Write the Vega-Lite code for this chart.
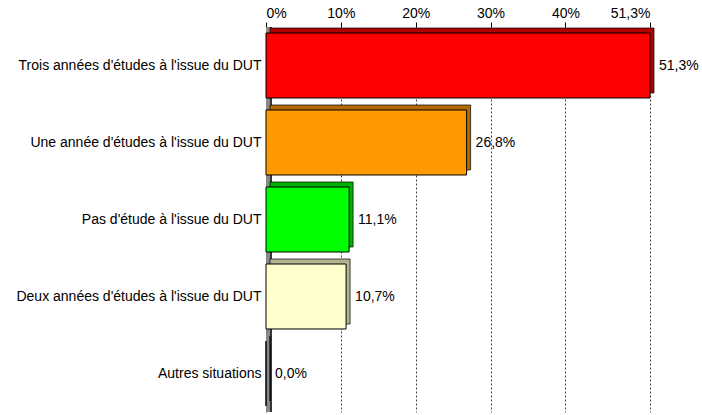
{
  "$schema": "https://vega.github.io/schema/vega-lite/v6.json",
  "autosize": "none",
  "width": 384,
  "height": 385,
  "padding": {"left": 266, "top": 27, "right": 52, "bottom": 3},
  "background": "white",
  "config": {
    "font": "Liberation Sans",
    "view": {"stroke": null},
    "axis": {"labelFont": "Liberation Sans", "labelColor": "#000", "labelFontSize": 14}
  },
  "data": {
    "values": [
      {"cat": "Trois années d'études à l'issue du DUT", "v": 51.3},
      {"cat": "Une année d'études à l'issue du DUT", "v": 26.8},
      {"cat": "Pas d'étude à l'issue du DUT", "v": 11.1},
      {"cat": "Deux années d'études à l'issue du DUT", "v": 10.7},
      {"cat": "Autres situations", "v": 0.0}
    ]
  },
  "transform": [
    {"calculate": "replace(format(datum.v, '.1f'), '.', ',') + '%'", "as": "label"}
  ],
  "encoding": {
    "y": {
      "field": "cat", "type": "nominal", "sort": null,
      "scale": {"paddingInner": 0.156, "paddingOuter": 0.078},
      "axis": {"title": null, "ticks": false, "domain": false, "labelPadding": 5, "labelLimit": 300}
    }
  },
  "layer": [
    {
      "mark": {"type": "rule", "strokeWidth": 5, "color": "#888", "xOffset": 2.5},
      "encoding": {"x": {"datum": 0, "type": "quantitative", "scale": {"domain": [0, 51.3]}}, "y": null}
    },
    {
      "mark": {"type": "rule", "strokeWidth": 1, "color": "#333", "xOffset": 5},
      "encoding": {"x": {"datum": 0, "type": "quantitative"}, "y": null}
    },
    {
      "mark": {"type": "bar", "xOffset": 4, "yOffset": -5, "stroke": "#000", "strokeWidth": 0.7},
      "encoding": {
        "x": {
          "field": "v", "type": "quantitative",
          "scale": {"domain": [0, 51.3], "nice": false, "zero": true},
          "axis": {
            "orient": "top", "title": null, "values": [0, 10, 20, 30, 40, 51.3],
            "labelExpr": "datum.value == 51.3 ? '51,3%' : datum.value + '%'",
            "domain": false, "tickSize": 5, "tickColor": "#000", "labelPadding": 2,
            "grid": true, "gridColor": "#444", "gridDash": [2, 2], "gridWidth": 1
          }
        },
        "fill": {
          "field": "cat", "type": "nominal", "legend": null,
          "scale": {
            "domain": ["Trois années d'études à l'issue du DUT", "Une année d'études à l'issue du DUT", "Pas d'étude à l'issue du DUT", "Deux années d'études à l'issue du DUT", "Autres situations"],
            "range": ["#b00000", "#b36b00", "#00b000", "#b3b38f", "#888888"]
          }
        }
      }
    },
    {
      "mark": {"type": "bar", "stroke": "#000", "strokeWidth": 1},
      "encoding": {
        "x": {"field": "v", "type": "quantitative"},
        "color": {
          "field": "cat", "type": "nominal", "legend": null,
          "scale": {
            "domain": ["Trois années d'études à l'issue du DUT", "Une année d'études à l'issue du DUT", "Pas d'étude à l'issue du DUT", "Deux années d'études à l'issue du DUT", "Autres situations"],
            "range": ["#ff0000", "#ff9900", "#00ff00", "#ffffcc", "#888888"]
          }
        }
      }
    },
    {
      "mark": {"type": "text", "align": "left", "dx": 9, "fontSize": 14, "color": "#000"},
      "encoding": {
        "x": {"field": "v", "type": "quantitative"},
        "text": {"field": "label"}
      }
    }
  ],
  "resolve": {"scale": {"fill": "independent", "color": "independent"}}
}
